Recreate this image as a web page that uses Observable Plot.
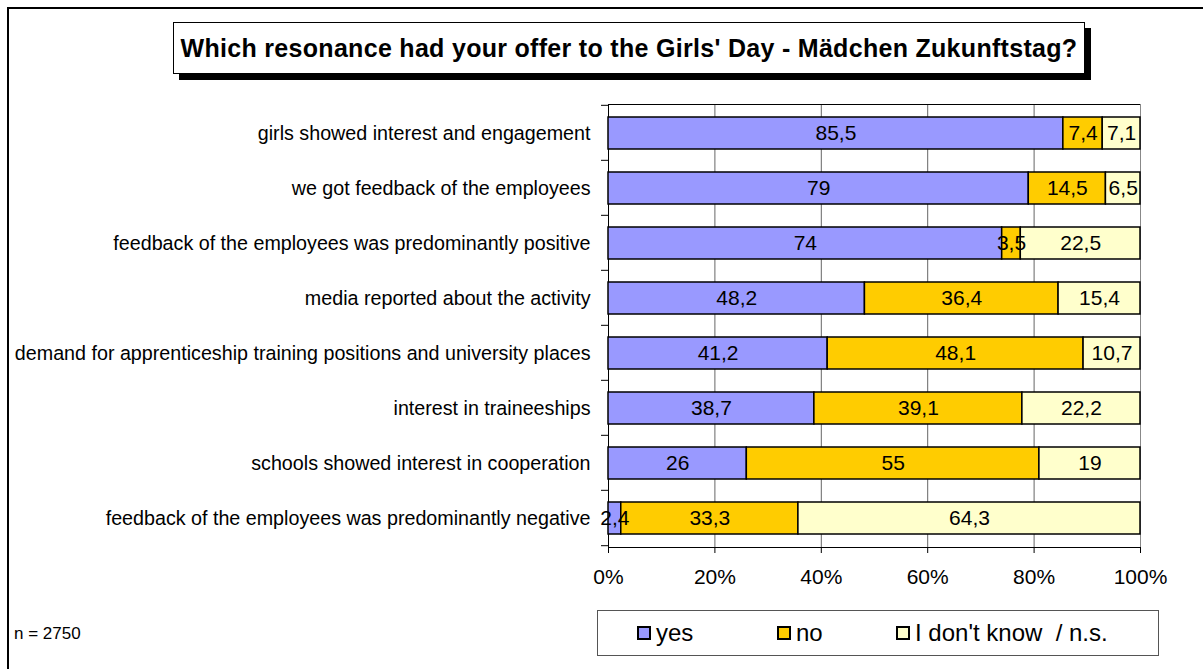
<!DOCTYPE html>
<html>
<head>
<meta charset="utf-8">
<script src="https://cdn.jsdelivr.net/npm/d3@7"></script>
<script src="https://cdn.jsdelivr.net/npm/@observablehq/plot@0.6"></script>
<style>
  html, body { margin: 0; padding: 0; background: #fff; }
  #wrap { position: relative; width: 1203px; height: 669px; overflow: hidden; background: #fff;
          font-family: Arial, "Liberation Sans", sans-serif; color: #000; }
  #border { position: absolute; left: 7px; top: 7px; width: 1300px; height: 800px; border: 2px solid #000; box-sizing: border-box; }
  #chart { position: absolute; left: 0; top: 0; }
  #title { position: absolute; left: 173px; top: 22px; width: 912px; height: 52px; box-sizing: border-box;
           border: 1px solid #000; background: #fff; box-shadow: 6px 6px 0 #000;
           font-weight: bold; font-size: 25px; letter-spacing: 0.3px; display: flex; align-items: center; justify-content: center; white-space: nowrap; }
  #legend { position: absolute; left: 597px; top: 610px; width: 562px; height: 46px; box-sizing: border-box;
            border: 1px solid #555; background: #fff; font-size: 24px; }
  .item { position: absolute; top: 0; height: 44px; display: flex; align-items: center; white-space: pre; }
  .sw { width: 10px; height: 10px; border: 2px solid #000; margin-right: 5px; box-sizing: content-box; }
  #n { position: absolute; left: 14px; top: 624px; font-size: 17px; }
</style>
</head>
<body>
<div id="wrap">
  <div id="border"></div>
  <div id="chart"></div>
  <div id="title"></div>
  <div id="legend"></div>
  <div id="n"></div>
</div>
<script>
const titleText = "Which resonance had your offer to the Girls' Day - Mädchen Zukunftstag?";
const sampleText = "n = 2750";
const categories = [
  "girls showed interest and engagement",
  "we got feedback of the employees",
  "feedback of the employees was predominantly positive",
  "media reported about the activity",
  "demand for apprenticeship training positions and university places",
  "interest in traineeships",
  "schools showed interest in cooperation",
  "feedback of the employees was predominantly negative"
];
const yesValues = [85.5, 79, 74, 48.2, 41.2, 38.7, 26, 2.4];
const noValues = [7.4, 14.5, 3.5, 36.4, 48.1, 39.1, 55, 33.3];
const dkValues = [7.1, 6.5, 22.5, 15.4, 10.7, 22.2, 19, 64.3];
const answers = ["yes", "no", "I don't know  / n.s."];
const colors = ["#9999FF", "#FFCC00", "#FFFFCC"];
const xTicks = [0, 20, 40, 60, 80, 100];

const series = [yesValues, noValues, dkValues];
const rows = [];
categories.forEach((cat, i) => {
  answers.forEach((a, j) => rows.push({cat, answer: a, value: series[j][i]}));
});
const fmt = v => String(v).replace(".", ",");

function boundaryTicks(index, scales, values, dims) {
  const y = scales.y;
  const bw = typeof y.bandwidth === "function" ? y.bandwidth() : (y.bandwidth || 0);
  const top = dims.marginTop, bottom = dims.height - dims.marginBottom;
  const step = (bottom - top) / categories.length;
  const x0 = scales.x(0);
  const g = d3.create("svg:g").attr("stroke", "#000").attr("stroke-width", 1);
  const ys = categories.map(c => y(c) + bw / 2 - step / 2);
  ys.push(y(categories[categories.length - 1]) + bw / 2 + step / 2);
  ys.forEach(v => g.append("line").attr("x1", x0 - 7).attr("x2", x0).attr("y1", v).attr("y2", v));
  return g.node();
}

const chart = Plot.plot({
  width: 1203,
  height: 669,
  marginLeft: 608,
  marginRight: 63,
  marginTop: 104,
  marginBottom: 122,
  style: {fontFamily: "Arial, 'Liberation Sans', sans-serif", fontSize: "19px", background: "transparent", color: "#000", overflow: "visible"},
  x: {domain: [0, 100]},
  y: {domain: categories, paddingInner: 0.42, paddingOuter: 0.21},
  color: {domain: answers, range: colors},
  marks: [
    Plot.ruleX(xTicks.filter(t => t > 0 && t < 100), {stroke: "#666", strokeWidth: 1}),
    Plot.frame({stroke: "#000", strokeWidth: 1}),
    Plot.ruleX([100], {stroke: "#888", strokeWidth: 1}),
    Plot.barX(rows, Plot.stackX({x: "value", y: "cat", fill: "answer", order: answers, stroke: "#000", strokeWidth: 1.5})),
    Plot.textX(rows, Plot.stackX({x: "value", y: "cat", z: "answer", order: answers, text: d => fmt(d.value), fontSize: 21, fill: "#000"})),
    Plot.axisY({tickSize: 0, tickPadding: 18, fontSize: 19.7, label: null}),
    Plot.axisX({ticks: xTicks, tickFormat: d => d + "%", tickSize: 6, tickPadding: 16, fontSize: 21, label: null}),
    boundaryTicks
  ]
});
document.getElementById("chart").appendChild(chart);

document.getElementById("title").textContent = titleText;
document.getElementById("n").textContent = sampleText;
const legendLefts = [39, 179, 298];
const legend = document.getElementById("legend");
answers.forEach((a, i) => {
  const it = document.createElement("div");
  it.className = "item";
  it.style.left = legendLefts[i] + "px";
  const sw = document.createElement("span");
  sw.className = "sw";
  sw.style.background = colors[i];
  it.appendChild(sw);
  it.appendChild(document.createTextNode(a));
  legend.appendChild(it);
});
</script>
</body>
</html>
